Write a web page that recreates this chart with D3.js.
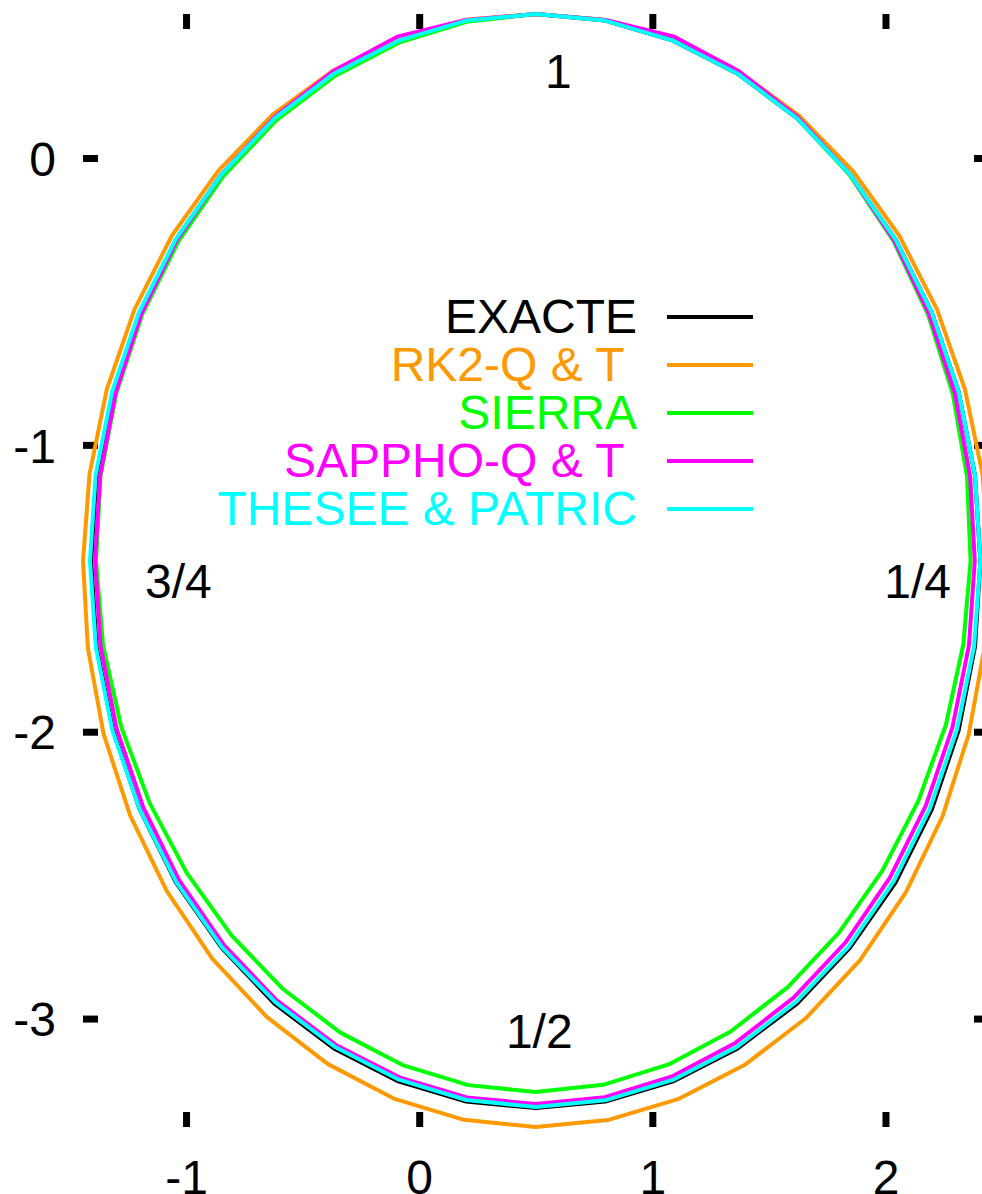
<!DOCTYPE html>
<html><head><meta charset="utf-8">
<script src="https://cdn.jsdelivr.net/npm/d3@7"></script>
<style>html,body{margin:0;padding:0;background:#fff;overflow:hidden}</style>
</head><body><svg id="chart" width="982" height="1194"></svg>
<script>
// ---- data (x, y), 40 steps per period ----
const exacte = [[0.5,0.502],[0.798,0.479],[1.089,0.409],[1.366,0.294],[1.621,0.138],[1.848,-0.057],[2.043,-0.284],[2.199,-0.539],[2.314,-0.816],[2.384,-1.107],[2.407,-1.405],[2.384,-1.703],[2.314,-1.994],[2.199,-2.271],[2.043,-2.526],[1.848,-2.753],[1.621,-2.948],[1.366,-3.104],[1.089,-3.219],[0.798,-3.289],[0.5,-3.312],[0.202,-3.289],[-0.089,-3.219],[-0.366,-3.104],[-0.621,-2.948],[-0.848,-2.753],[-1.043,-2.526],[-1.199,-2.271],[-1.314,-1.994],[-1.384,-1.703],[-1.407,-1.405],[-1.384,-1.107],[-1.314,-0.816],[-1.199,-0.539],[-1.043,-0.284],[-0.848,-0.057],[-0.621,0.138],[-0.366,0.294],[-0.089,0.409],[0.202,0.479],[0.5,0.502]];
const rk2 = [[0.5,0.502],[0.799,0.481],[1.091,0.414],[1.370,0.302],[1.629,0.148],[1.860,-0.045],[2.060,-0.272],[2.221,-0.528],[2.341,-0.807],[2.416,-1.102],[2.444,-1.405],[2.424,-1.710],[2.357,-2.009],[2.245,-2.294],[2.088,-2.559],[1.891,-2.796],[1.658,-2.999],[1.395,-3.162],[1.110,-3.281],[0.809,-3.354],[0.5,-3.378],[0.192,-3.353],[-0.109,-3.279],[-0.393,-3.158],[-0.654,-2.994],[-0.887,-2.792],[-1.083,-2.555],[-1.240,-2.292],[-1.354,-2.007],[-1.421,-1.709],[-1.442,-1.405],[-1.414,-1.102],[-1.340,-0.807],[-1.221,-0.528],[-1.061,-0.271],[-0.861,-0.044],[-0.630,0.150],[-0.371,0.304],[-0.091,0.415],[0.201,0.482],[0.5,0.502]];
const sierra = [[0.5,0.502],[0.799,0.481],[1.091,0.412],[1.368,0.298],[1.622,0.139],[1.846,-0.059],[2.035,-0.290],[2.183,-0.547],[2.289,-0.824],[2.350,-1.112],[2.365,-1.405],[2.334,-1.695],[2.259,-1.976],[2.141,-2.241],[1.986,-2.485],[1.798,-2.703],[1.580,-2.891],[1.336,-3.045],[1.070,-3.160],[0.789,-3.231],[0.5,-3.256],[0.211,-3.232],[-0.071,-3.162],[-0.338,-3.049],[-0.584,-2.897],[-0.805,-2.710],[-0.997,-2.492],[-1.156,-2.249],[-1.278,-1.983],[-1.356,-1.699],[-1.386,-1.405],[-1.367,-1.109],[-1.299,-0.820],[-1.188,-0.545],[-1.033,-0.291],[-0.841,-0.064],[-0.615,0.130],[-0.362,0.286],[-0.087,0.402],[0.202,0.475],[0.5,0.502]];
const sappho = [[0.5,0.502],[0.799,0.481],[1.094,0.423],[1.370,0.303],[1.624,0.142],[1.848,-0.057],[2.038,-0.288],[2.188,-0.545],[2.298,-0.821],[2.363,-1.110],[2.383,-1.405],[2.358,-1.699],[2.287,-1.986],[2.173,-2.258],[2.019,-2.509],[1.829,-2.734],[1.606,-2.927],[1.356,-3.085],[1.084,-3.202],[0.796,-3.274],[0.5,-3.298],[0.204,-3.275],[-0.085,-3.205],[-0.359,-3.091],[-0.612,-2.936],[-0.838,-2.743],[-1.030,-2.517],[-1.184,-2.263],[-1.298,-1.989],[-1.367,-1.701],[-1.390,-1.405],[-1.369,-1.109],[-1.302,-0.819],[-1.192,-0.543],[-1.040,-0.286],[-0.848,-0.057],[-0.623,0.141],[-0.370,0.302],[-0.094,0.423],[0.201,0.481],[0.5,0.502]];
const thesee = [[0.5,0.502],[0.798,0.479],[1.089,0.409],[1.366,0.294],[1.621,0.138],[1.848,-0.057],[2.043,-0.284],[2.199,-0.539],[2.314,-0.816],[2.384,-1.107],[2.407,-1.405],[2.380,-1.703],[2.307,-1.992],[2.191,-2.267],[2.036,-2.521],[1.843,-2.748],[1.617,-2.942],[1.363,-3.099],[1.088,-3.214],[0.798,-3.285],[0.5,-3.308],[0.202,-3.284],[-0.087,-3.213],[-0.363,-3.098],[-0.617,-2.943],[-0.846,-2.751],[-1.041,-2.525],[-1.199,-2.271],[-1.316,-1.995],[-1.387,-1.704],[-1.412,-1.405],[-1.388,-1.106],[-1.317,-0.814],[-1.202,-0.538],[-1.044,-0.283],[-0.848,-0.057],[-0.621,0.138],[-0.366,0.294],[-0.089,0.409],[0.202,0.479],[0.5,0.502]];

const seriesNames = ["EXACTE", "RK2-Q & T ", "SIERRA", "SAPPHO-Q & T ", "THESEE & PATRIC"];
const seriesColors = ["#000000", "#ff9900", "#00ff00", "#ff00ff", "#00ffff"];
const seriesData = [exacte, rk2, sierra, sappho, thesee];

const xTicks = [-1, 0, 1, 2];
const yTicks = [0, -1, -2, -3];
const xDomain = [-1.442, 2.444];
const yDomain = [-3.378, 0.502];

const phaseLabels = ["1", "1/4", "1/2", "3/4"];
const phaseX = [0.540, 1.995, 0.372, -1.176];
const phaseY = [0.244, -1.534, -3.103, -1.534];

// ---- drawing ----
(function () {
const FONT = "'Liberation Sans', Arial, Helvetica, sans-serif";
const svg = d3.select("#chart");
svg.append("rect").attr("width", 982).attr("height", 1194).attr("fill", "#fff");

const pLeft = 83, pRight = 989, pTop = 14, pBottom = 1127;
const x = d3.scaleLinear().domain(xDomain).range([pLeft, pRight]);
const y = d3.scaleLinear().domain(yDomain).range([pBottom, pTop]);

function styleAxis(g, showText) {
  g.select(".domain").remove();
  g.selectAll(".tick line").attr("stroke", "#000").attr("stroke-width", 7);
  g.attr("font-size", 48).attr("font-family", FONT);
  g.selectAll(".tick text").attr("fill", "#000");
  if (!showText) g.selectAll(".tick text").remove();
}

svg.append("g").attr("transform", `translate(0,${pBottom})`)
  .call(d3.axisBottom(x).tickValues(xTicks).tickSize(-15).tickPadding(33).tickFormat(d => String(d)))
  .call(g => styleAxis(g, true));
svg.append("g").attr("transform", `translate(0,${pTop})`)
  .call(d3.axisTop(x).tickValues(xTicks).tickSize(-15).tickFormat(() => ""))
  .call(g => styleAxis(g, false));
svg.append("g").attr("transform", `translate(${pLeft},0)`)
  .call(d3.axisLeft(y).tickValues(yTicks).tickSize(-15).tickPadding(27).tickFormat(d => String(d)))
  .call(g => { styleAxis(g, true); g.selectAll(".tick text").attr("dy", "0.36em"); });
svg.append("g").attr("transform", `translate(${pRight},0)`)
  .call(d3.axisRight(y).tickValues(yTicks).tickSize(-15).tickFormat(() => ""))
  .call(g => styleAxis(g, false));

const line = d3.line().x(d => x(d[0])).y(d => y(d[1]));
svg.append("g").selectAll("path").data(seriesData).join("path")
  .attr("d", d => line(d))
  .attr("fill", "none")
  .attr("stroke", (d, i) => seriesColors[i])
  .attr("stroke-width", 4)
  .attr("stroke-linejoin", "round");

svg.append("g").selectAll("text").data(phaseLabels).join("text")
  .attr("x", (d, i) => x(phaseX[i]))
  .attr("y", (d, i) => y(phaseY[i]))
  .attr("font-family", FONT).attr("font-size", 48).attr("fill", "#000")
  .text(d => d);

const legX = 637, legY0 = 317, legStep = 48;
const leg = svg.append("g").attr("font-family", FONT).attr("font-size", 48);
seriesNames.forEach((name, i) => {
  const yy = legY0 + i * legStep;
  leg.append("text").attr("x", legX).attr("y", yy + 16)
    .attr("text-anchor", "end").attr("fill", seriesColors[i])
    .style("white-space", "pre").text(name);
  leg.append("line").attr("x1", 667).attr("x2", 753).attr("y1", yy).attr("y2", yy)
    .attr("stroke", seriesColors[i]).attr("stroke-width", 4);
});
})();
</script>
</body></html>
